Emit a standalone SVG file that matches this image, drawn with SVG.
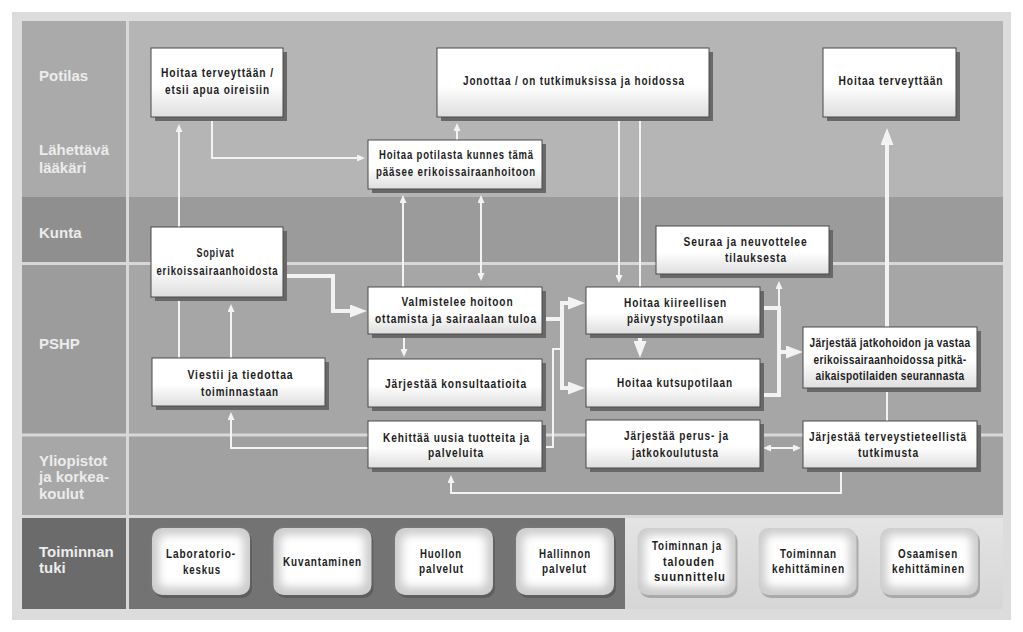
<svg xmlns="http://www.w3.org/2000/svg" width="1023" height="632" viewBox="0 0 1023 632">
<defs>
  <linearGradient id="boxg" x1="0" y1="0" x2="0" y2="1">
    <stop offset="0" stop-color="#ffffff"/>
    <stop offset="0.55" stop-color="#ffffff"/>
    <stop offset="1" stop-color="#dedede"/>
  </linearGradient>
  <linearGradient id="rightg" x1="0" y1="0" x2="0" y2="1">
    <stop offset="0" stop-color="#e4e4e4"/>
    <stop offset="1" stop-color="#d6d6d6"/>
  </linearGradient>
  <filter id="soft" x="-30%" y="-30%" width="160%" height="160%">
    <feGaussianBlur stdDeviation="4"/>
  </filter>
  <marker id="sm" viewBox="0 0 8 7" refX="5" refY="3.5" markerWidth="8" markerHeight="7" markerUnits="userSpaceOnUse" orient="auto-start-reverse">
    <path d="M0,0 L8,3.5 L0,7 z" fill="#f3f3f3"/>
  </marker>
  <marker id="lg" viewBox="0 0 17 13" refX="11" refY="6.5" markerWidth="17" markerHeight="13" markerUnits="userSpaceOnUse" orient="auto">
    <path d="M0,0 L17,6.5 L0,13 z" fill="#f3f3f3"/>
  </marker>
</defs>
<style>
  .lbl { font-family: "Liberation Sans", Arial, sans-serif; font-weight: bold; font-size: 15px; fill: #ececec; }
  .t { font-family: "Liberation Sans", Arial, sans-serif; font-weight: bold; font-size: 13.5px; fill: #1e1e1e; text-anchor: middle; letter-spacing: 1.2px; }
  .tj { letter-spacing: 0.5px; }
  .box { fill: url(#boxg); stroke: #4a4a4a; stroke-width: 1; }
  .sh { fill: #686868; }
  .ln { stroke: #f3f3f3; stroke-width: 2; fill: none; }
  .th { stroke: #f3f3f3; stroke-width: 4; fill: none; stroke-linejoin: miter; }
  .div { stroke: #d8d8d8; stroke-width: 3; fill: none; }
  .psh { fill: #4e4e4e; opacity: 0.6; }
  .psh2 { fill: #a9a9a9; }
  .pb { fill: #cdcdcd; }
  .pi { fill: #ffffff; }
</style>

<g id="background">
  <rect x="0" y="0" width="1023" height="632" fill="#ffffff"/>
  <rect x="12" y="12" width="999" height="608" fill="#dcdcdc"/>
  <rect x="22" y="21" width="105" height="176" fill="#aaaaaa"/>
  <rect x="127" y="21" width="876" height="176" fill="#b5b5b5"/>
  <rect x="22" y="197" width="105" height="66" fill="#8f8f8f"/>
  <rect x="127" y="197" width="876" height="66" fill="#9b9b9b"/>
  <rect x="22" y="263" width="105" height="172" fill="#9c9c9c"/>
  <rect x="127" y="263" width="876" height="172" fill="#a6a6a6"/>
  <rect x="22" y="435" width="105" height="81" fill="#a7a7a7"/>
  <rect x="127" y="435" width="876" height="81" fill="#a1a1a1"/>
  <rect x="22" y="516" width="105" height="93" fill="#6b6b6b"/>
  <rect x="127" y="516" width="498" height="93" fill="#737373"/>
  <rect x="625" y="516" width="378" height="93" fill="url(#rightg)"/>
  <path class="div" d="M22,263.5 H1003 M22,435 H1003 M22,516.5 H1003 M127.5,21 V609"/>
</g>

<g id="lane-labels">
  <text class="lbl" x="39" y="81">Potilas</text>
  <text class="lbl" x="39" y="155">Lähettävä</text>
  <text class="lbl" x="39" y="173">lääkäri</text>
  <text class="lbl" x="39" y="238">Kunta</text>
  <text class="lbl" x="39" y="349">PSHP</text>
  <text class="lbl" x="39" y="466">Yliopistot</text>
  <text class="lbl" x="39" y="482">ja korkea-</text>
  <text class="lbl" x="39" y="499">koulut</text>
  <text class="lbl" x="39" y="557">Toiminnan</text>
  <text class="lbl" x="39" y="573">tuki</text>
</g>

<g id="connectors">
  <path class="ln" d="M179,358 V127" marker-end="url(#sm)"/>
  <path class="ln" d="M231,358 V307" marker-end="url(#sm)"/>
  <path class="ln" d="M212,112 V158 H362" marker-end="url(#sm)"/>
  <path class="ln" d="M457,145 V126" marker-end="url(#sm)"/>
  <path class="ln" d="M403,292 V198" marker-end="url(#sm)"/>
  <path class="ln" d="M481,198 V278" marker-start="url(#sm)" marker-end="url(#sm)"/>
  <path class="ln" d="M619,112 V280" marker-end="url(#sm)"/>
  <path class="ln" d="M640,112 V292"/>
  <path class="th" d="M283,276 H333 V311 H361" marker-end="url(#lg)"/>
  <path class="th" d="M542,319 H562 V303 H579" marker-end="url(#lg)"/>
  <path class="th" d="M562,319 V388 H579" marker-end="url(#lg)"/>
  <path class="ln" d="M542,447 H553 V349 H562"/>
  <path class="th" d="M640,330 V352" marker-end="url(#lg)"/>
  <path class="th" d="M760,308 H779 V395 H760"/>
  <path class="ln" d="M779,308 V284" marker-end="url(#sm)"/>
  <path class="th" d="M779,352 H797" marker-end="url(#lg)"/>
  <path class="th" d="M887,330 V134" marker-end="url(#lg)"/>
  <path class="ln" d="M887,385 V425"/>
  <path class="ln" d="M766,448 H798" marker-start="url(#sm)" marker-end="url(#sm)"/>
  <path class="ln" d="M370,448 H231 V415" marker-end="url(#sm)"/>
  <path class="ln" d="M841,465 V493 H451 V478" marker-end="url(#sm)"/>
  <path class="ln" d="M404,330 V354" marker-end="url(#sm)"/>
</g>

<g id="n-hoitaa-etsii">
  <rect class="sh" x="155" y="52" width="132" height="69"/>
  <rect class="box" x="151" y="48" width="132" height="69"/>
  <text class="t" x="217.5" y="77" textLength="113" lengthAdjust="spacingAndGlyphs">Hoitaa terveyttään /</text>
  <text class="t" x="217.5" y="94" textLength="105" lengthAdjust="spacingAndGlyphs">etsii apua oireisiin</text>
</g>
<g id="n-jonottaa">
  <rect class="sh" x="441" y="52" width="272" height="69"/>
  <rect class="box" x="437" y="48" width="272" height="69"/>
  <text class="t" x="574" y="85" textLength="222" lengthAdjust="spacingAndGlyphs">Jonottaa / on tutkimuksissa ja hoidossa</text>
</g>
<g id="n-hoitaa-terveyttaan">
  <rect class="sh" x="827" y="52" width="133" height="69"/>
  <rect class="box" x="823" y="48" width="133" height="69"/>
  <text class="t" x="891" y="85" textLength="105" lengthAdjust="spacingAndGlyphs">Hoitaa terveyttään</text>
</g>
<g id="n-hoitaa-potilasta">
  <rect class="sh" x="372" y="144" width="174" height="49"/>
  <rect class="box" x="368" y="140" width="174" height="49"/>
  <text class="t" x="456.5" y="159" textLength="155" lengthAdjust="spacingAndGlyphs">Hoitaa potilasta kunnes tämä</text>
  <text class="t" x="456" y="176" textLength="160" lengthAdjust="spacingAndGlyphs">pääsee erikoissairaanhoitoon</text>
</g>
<g id="n-sopivat">
  <rect class="sh" x="155" y="231" width="132" height="70"/>
  <rect class="box" x="151" y="227" width="132" height="70"/>
  <text class="t" x="215.5" y="257" textLength="38" lengthAdjust="spacingAndGlyphs">Sopivat</text>
  <text class="t" x="217.5" y="275" textLength="122" lengthAdjust="spacingAndGlyphs">erikoissairaanhoidosta</text>
</g>
<g id="n-viestii">
  <rect class="sh" x="156" y="362" width="173" height="48"/>
  <rect class="box" x="152" y="358" width="173" height="48"/>
  <text class="t" x="240.5" y="379" textLength="106" lengthAdjust="spacingAndGlyphs">Viestii ja tiedottaa</text>
  <text class="t" x="240" y="396" textLength="78" lengthAdjust="spacingAndGlyphs">toiminnastaan</text>
</g>
<g id="n-valmistelee">
  <rect class="sh" x="372" y="291" width="174" height="47"/>
  <rect class="box" x="368" y="287" width="174" height="47"/>
  <text class="t" x="457.5" y="306" textLength="112" lengthAdjust="spacingAndGlyphs">Valmistelee hoitoon</text>
  <text class="t" x="456" y="323" textLength="162" lengthAdjust="spacingAndGlyphs">ottamista ja sairaalaan tuloa</text>
</g>
<g id="n-konsultaatioita">
  <rect class="sh" x="372" y="363" width="174" height="48"/>
  <rect class="box" x="368" y="359" width="174" height="48"/>
  <text class="t" x="456" y="388" textLength="142" lengthAdjust="spacingAndGlyphs">Järjestää konsultaatioita</text>
</g>
<g id="n-kehittaa">
  <rect class="sh" x="372" y="425" width="174" height="47"/>
  <rect class="box" x="368" y="421" width="174" height="47"/>
  <text class="t" x="456.5" y="442" textLength="147" lengthAdjust="spacingAndGlyphs">Kehittää uusia tuotteita ja</text>
  <text class="t" x="456" y="457" textLength="56" lengthAdjust="spacingAndGlyphs">palveluita</text>
</g>
<g id="n-kiireellisen">
  <rect class="sh" x="590" y="291" width="174" height="47"/>
  <rect class="box" x="586" y="287" width="174" height="47"/>
  <text class="t" x="675.5" y="307" textLength="103" lengthAdjust="spacingAndGlyphs">Hoitaa kiireellisen</text>
  <text class="t" x="675.5" y="323" textLength="97" lengthAdjust="spacingAndGlyphs">päivystyspotilaan</text>
</g>
<g id="n-kutsupotilaan">
  <rect class="sh" x="590" y="363" width="174" height="48"/>
  <rect class="box" x="586" y="359" width="174" height="48"/>
  <text class="t" x="675" y="387" textLength="116" lengthAdjust="spacingAndGlyphs">Hoitaa kutsupotilaan</text>
</g>
<g id="n-koulutus">
  <rect class="sh" x="590" y="424" width="174" height="48"/>
  <rect class="box" x="586" y="420" width="174" height="48"/>
  <text class="t" x="676.5" y="440" textLength="105" lengthAdjust="spacingAndGlyphs">Järjestää perus- ja</text>
  <text class="t" x="675.5" y="457" textLength="87" lengthAdjust="spacingAndGlyphs">jatkokoulutusta</text>
</g>
<g id="n-seuraa">
  <rect class="sh" x="660" y="230" width="173" height="48"/>
  <rect class="box" x="656" y="226" width="173" height="48"/>
  <text class="t" x="745.5" y="245.5" textLength="124" lengthAdjust="spacingAndGlyphs">Seuraa ja neuvottelee</text>
  <text class="t" x="756" y="262" textLength="62" lengthAdjust="spacingAndGlyphs">tilauksesta</text>
</g>
<g id="n-jatkohoito">
  <rect class="sh" x="807" y="331" width="174" height="61"/>
  <rect class="box" x="803" y="327" width="174" height="61"/>
  <text class="t tj" transform="translate(890,347) scale(0.75,1)">Järjestää jatkohoidon ja vastaa</text>
  <text class="t tj" transform="translate(890,364) scale(0.75,1)">erikoissairaanhoidossa pitkä-</text>
  <text class="t tj" transform="translate(890,380) scale(0.75,1)">aikaispotilaiden seurannasta</text>
</g>
<g id="n-tutkimus">
  <rect class="sh" x="807" y="425" width="174" height="47"/>
  <rect class="box" x="803" y="421" width="174" height="47"/>
  <text class="t" x="888" y="441" textLength="158" lengthAdjust="spacingAndGlyphs">Järjestää terveystieteellistä</text>
  <text class="t" x="888.5" y="457" textLength="61" lengthAdjust="spacingAndGlyphs">tutkimusta</text>
</g>

<g id="t-laboratorio">
  <rect class="psh" x="154" y="531" width="98" height="67" rx="10"/>
  <rect class="pb" x="152" y="528" width="98" height="67" rx="10"/>
  <rect class="pi" x="159" y="535" width="84" height="52" rx="6" filter="url(#soft)"/>
  <text class="t" x="201" y="558" textLength="70" lengthAdjust="spacingAndGlyphs">Laboratorio-</text>
  <text class="t" x="202" y="574" textLength="38" lengthAdjust="spacingAndGlyphs">keskus</text>
</g>
<g id="t-kuvantaminen">
  <rect class="psh" x="275.5" y="531" width="98" height="67" rx="10"/>
  <rect class="pb" x="273.5" y="528" width="98" height="67" rx="10"/>
  <rect class="pi" x="280.5" y="535" width="84" height="52" rx="6" filter="url(#soft)"/>
  <text class="t" x="322.5" y="566" textLength="79" lengthAdjust="spacingAndGlyphs">Kuvantaminen</text>
</g>
<g id="t-huollon">
  <rect class="psh" x="397" y="531" width="98" height="67" rx="10"/>
  <rect class="pb" x="395" y="528" width="98" height="67" rx="10"/>
  <rect class="pi" x="402" y="535" width="84" height="52" rx="6" filter="url(#soft)"/>
  <text class="t" x="441" y="558" textLength="42" lengthAdjust="spacingAndGlyphs">Huollon</text>
  <text class="t" x="441.5" y="573" textLength="45" lengthAdjust="spacingAndGlyphs">palvelut</text>
</g>
<g id="t-hallinnon">
  <rect class="psh" x="518" y="531" width="98" height="67" rx="10"/>
  <rect class="pb" x="516" y="528" width="98" height="67" rx="10"/>
  <rect class="pi" x="523" y="535" width="84" height="52" rx="6" filter="url(#soft)"/>
  <text class="t" x="565" y="558" textLength="52" lengthAdjust="spacingAndGlyphs">Hallinnon</text>
  <text class="t" x="564.5" y="573" textLength="45" lengthAdjust="spacingAndGlyphs">palvelut</text>
</g>
<g id="t-suunnittelu">
  <rect class="psh2" x="639.5" y="531" width="98" height="67" rx="10"/>
  <rect class="pb" x="637.5" y="528" width="98" height="67" rx="10"/>
  <rect class="pi" x="644.5" y="535" width="84" height="52" rx="6" filter="url(#soft)"/>
  <text class="t" x="687" y="550" textLength="70" lengthAdjust="spacingAndGlyphs">Toiminnan ja</text>
  <text class="t" x="689" y="566" textLength="52" lengthAdjust="spacingAndGlyphs">talouden</text>
  <text class="t" x="690" y="581" textLength="72" lengthAdjust="spacingAndGlyphs">suunnittelu</text>
</g>
<g id="t-toiminnan-kehittaminen">
  <rect class="psh2" x="760.5" y="531" width="98" height="67" rx="10"/>
  <rect class="pb" x="758.5" y="528" width="98" height="67" rx="10"/>
  <rect class="pi" x="765.5" y="535" width="84" height="52" rx="6" filter="url(#soft)"/>
  <text class="t" x="808.5" y="558" textLength="57" lengthAdjust="spacingAndGlyphs">Toiminnan</text>
  <text class="t" x="808.5" y="573" textLength="73" lengthAdjust="spacingAndGlyphs">kehittäminen</text>
</g>
<g id="t-osaamisen-kehittaminen">
  <rect class="psh2" x="882" y="531" width="98" height="67" rx="10"/>
  <rect class="pb" x="880" y="528" width="98" height="67" rx="10"/>
  <rect class="pi" x="887" y="535" width="84" height="52" rx="6" filter="url(#soft)"/>
  <text class="t" x="928" y="558" textLength="60" lengthAdjust="spacingAndGlyphs">Osaamisen</text>
  <text class="t" x="928.5" y="573" textLength="73" lengthAdjust="spacingAndGlyphs">kehittäminen</text>
</g>
</svg>
